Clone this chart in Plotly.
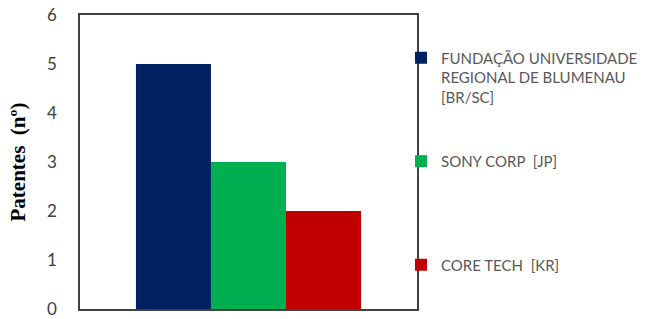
import plotly.graph_objects as go

category = [""]
series_names = [
    "FUNDAÇÃO UNIVERSIDADE<br>REGIONAL DE BLUMENAU<br>[BR/SC]",
    "SONY CORP  [JP]",
    "CORE TECH  [KR]",
]
values_fundacao = [5]
values_sony = [3]
values_coretech = [2]
colors = ["#002060", "#00B050", "#C00000"]
y_ticks = [0, 1, 2, 3, 4, 5, 6]

series_values = [values_fundacao, values_sony, values_coretech]
legend_ids = ["legend", "legend2", "legend3"]

fig = go.Figure()
for name, vals, col, lg in zip(series_names, series_values, colors, legend_ids):
    fig.add_trace(go.Bar(x=category, y=vals, name=name, marker_color=col,
                         marker_line_width=0, legend=lg))

legend_font = dict(family="Lato, Open Sans, sans-serif", size=15, color="#595959")
common_legend = dict(xref="paper", yref="paper", x=0.9525, xanchor="left",
                     yanchor="top", font=legend_font, bgcolor="rgba(0,0,0,0)",
                     valign="top", itemwidth=30)

fig.update_layout(
    width=646, height=319,
    margin=dict(l=80, r=229, t=15, b=10, autoexpand=False),
    paper_bgcolor="white", plot_bgcolor="white",
    barmode="group", bargap=0.332, bargroupgap=0,
    showlegend=True,
    legend=dict(common_legend, y=0.91),
    legend2=dict(common_legend, y=0.558),
    legend3=dict(common_legend, y=0.206),
    xaxis=dict(showticklabels=False, showline=True, linecolor="#404040", linewidth=1.5,
               mirror=True, ticks=""),
    yaxis=dict(range=[0, 6], tickvals=y_ticks, showgrid=False, zeroline=False,
               showline=True, linecolor="#404040", linewidth=1.5, mirror=True,
               ticks="", ticklabelstandoff=18, ticklabeloverflow="allow",
               tickfont=dict(family="Lato, Open Sans, sans-serif", size=17, color="#404040"),
               title=dict(text="Patentes  (nº)", standoff=16,
                          font=dict(family="Liberation Serif, Times New Roman, serif",
                                    size=21, color="#000000", weight="bold"))),
)

# remove the browser's default 8px body margin so the figure fills the window
fig.write_html("out.html", config={"displayModeBar": False},
               post_script="document.body.style.margin='0';")
